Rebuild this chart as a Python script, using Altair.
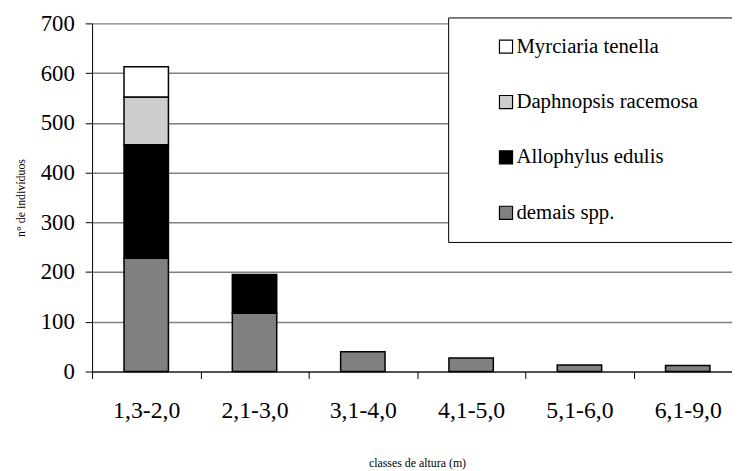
import altair as alt
import pandas as pd

categories = ["1,3-2,0", "2,1-3,0", "3,1-4,0", "4,1-5,0", "5,1-6,0", "6,1-9,0"]
species = ["Myrciaria tenella", "Daphnopsis racemosa", "Allophylus edulis", "demais spp."]
demais = [228, 117, 40, 27, 13, 12]
allophylus = [228, 78, 0, 0, 0, 0]
daphnopsis = [96, 0, 0, 0, 0, 0]
myrciaria = [61, 0, 0, 0, 0, 0]
colors = ["#ffffff", "#cdcdcd", "#000000", "#808080"]
y_ticks = [0, 100, 200, 300, 400, 500, 600, 700]

rows = []
series = {"demais spp.": demais, "Allophylus edulis": allophylus,
          "Daphnopsis racemosa": daphnopsis, "Myrciaria tenella": myrciaria}
stack_order = {"demais spp.": 0, "Allophylus edulis": 1, "Daphnopsis racemosa": 2, "Myrciaria tenella": 3}
for sp, vals in series.items():
    for c, v in zip(categories, vals):
        rows.append({"classe": c, "especie": sp, "n": v, "ord": stack_order[sp]})
df = pd.DataFrame(rows)
df = df[df["n"] > 0]

font = "Liberation Serif"

chart = alt.Chart(df).mark_bar(stroke="black", strokeWidth=1.5,
                               width=alt.RelativeBandSize(0.41)).encode(
    x=alt.X("classe:N", sort=categories,
            scale=alt.Scale(range=[0, 657], paddingInner=0, paddingOuter=0),
            axis=alt.Axis(title="classes de altura (m)", labelAngle=0, tickBand="extent",
                          labelFontSize=24, labelFont=font, labelColor="black",
                          titleFont=font, titleFontSize=12, titleFontWeight="normal",
                          titleColor="black", titlePadding=36, labelPadding=20,
                          domainColor="black", tickColor="black", tickSize=7, tickWidth=1,
                          grid=False)),
    y=alt.Y("n:Q", stack="zero",
            scale=alt.Scale(domain=[0, 700], nice=False),
            axis=alt.Axis(title="n° de indivíduos", values=y_ticks, labelFontSize=23,
                          labelFont=font, labelColor="black", titleFont=font,
                          titleFontSize=12, titleFontWeight="normal", titleColor="black",
                          titlePadding=13, labelPadding=11, tickSize=7, domainColor="black",
                          tickColor="black", gridColor="#808080", gridWidth=1.5)),
    color=alt.Color("especie:N",
                    scale=alt.Scale(domain=species, range=colors),
                    legend=alt.Legend(orient="none", legendX=360, legendY=-6,
                                      title=" ", titleOrient="right", titlePadding=40,
                                      symbolOffset=29,
                                      padding=19, rowPadding=34, labelLimit=500,
                                      strokeColor="black", fillColor="white",
                                      labelFont=font, labelFontSize=21, labelColor="black",
                                      symbolType="square", symbolSize=175,
                                      symbolStrokeColor="black", symbolStrokeWidth=1.2,
                                      symbolOpacity=1, labelOffset=0)),
    order=alt.Order("ord:Q", sort="ascending"),
).properties(
    width=647, height=352,
    autosize=alt.AutoSizeParams(type="none"),
    padding={"left": 85, "top": 13, "right": 0, "bottom": 98},
).configure_view(stroke=None)

chart.save("out.html", embed_options={"renderer": "svg", "actions": False})
